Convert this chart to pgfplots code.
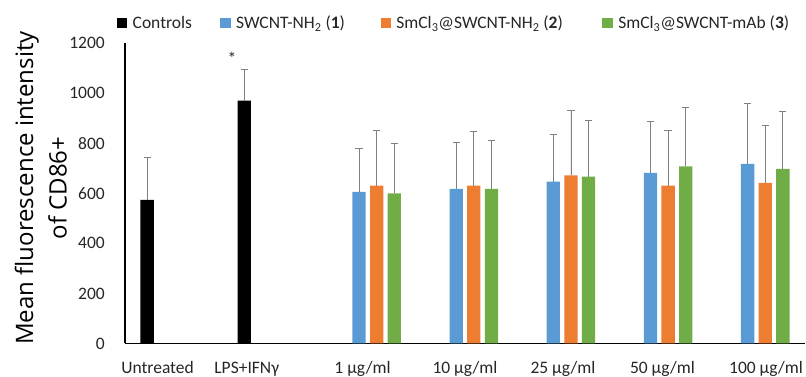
\documentclass[border=0pt]{standalone}
\usepackage{pgfplots}
\pgfplotsset{compat=1.18}
\usepackage{pgfplotstable}
\usepackage{fontspec}
\setmainfont{Carlito}
\newfontfamily\labelfont{Open Sans}
\definecolor{cblue}{HTML}{5B9BD5}
\definecolor{corange}{HTML}{ED7D31}
\definecolor{cgreen}{HTML}{70AD47}
\definecolor{errgray}{HTML}{808080}
\definecolor{txt}{HTML}{262626}

\pgfplotstableread{
x y e
-0.272 574 169
0.728 970 124
}\controls
\pgfplotstableread{
x y e
1.9093 605 173
2.9093 617 186
3.9093 646 189
4.9093 681 204
5.9093 717 240
}\sone
\pgfplotstableread{
x y e
2.0907 630 220
3.0907 630 215
4.0907 671 260
5.0907 630 219
6.0907 641 229
}\stwo
\pgfplotstableread{
x y e
2.272 599 200
3.272 617 192
4.272 666 224
5.272 707 235
6.272 697 230
}\sthree

\begin{document}
\begin{tikzpicture}
\begin{axis}[
  scale only axis, width=680pt, height=300.5pt,
  xmin=-0.5, xmax=6.5, ymin=0, ymax=1200,
  axis lines=left, axis line style={-},
  x axis line style={line width=1.8pt}, y axis line style={line width=1.2pt},
  ytick={0,200,...,1200},
  xtick={-0.165,0.753,1.945,3.0,4.009,5.033,6.099},
  xticklabels={Untreated, LPS+IFNγ, 1 µg/ml, 10 µg/ml, 25 µg/ml, 50 µg/ml, 100 µg/ml},
  major tick length=0pt, tick style={draw=none},
  /pgf/number format/assume math mode=true,
  /pgf/number format/1000 sep={},
  ticklabel style={font=\fontsize{17.5}{21}\selectfont, text=txt},
  yticklabel style={anchor=east, inner sep=0pt, xshift=-20pt},
  xticklabel style={anchor=base, inner sep=0pt, yshift=-29.8pt},
  ylabel={Mean fluorescence intensity\\of CD86+},
  ylabel style={at={(axis description cs:-0.1237,0.5175)}, anchor=center, align=center, font=\labelfont\fontsize{24}{33.4}\selectfont},
  sq legend/.style={legend image code/.code={\fill[##1, draw=none] (0pt,-5.3pt) rectangle (10.6pt,5.3pt); \path (15.6pt,0pt);}},
  mybar/.style={ybar, bar width=0.137, bar shift=0pt, draw=none,
    error bars/.cd, y dir=plus, y explicit,
    error bar style={color=errgray, line width=0.9pt},
    error mark options={rotate=90, mark size=3.6pt, line width=0.9pt, color=errgray}},
  legend style={at={(axis description cs:-0.0122,1.0666)}, anchor=west, draw=none, fill=none, inner sep=0pt,
    legend columns=4, font=\fontsize{17.5}{21}\selectfont, text=txt, cells={anchor=west},
    nodes={inner sep=0pt, text height=11.6pt, text depth=0pt},
    /tikz/every even column/.append style={column sep=0pt}},
]
\addplot[forget plot, fill=black, mybar] table[x=x, y=y, y error=e]{\controls};
\addplot[forget plot, fill=cblue, mybar] table[x=x, y=y, y error=e]{\sone};
\addplot[forget plot, fill=corange, mybar] table[x=x, y=y, y error=e]{\stwo};
\addplot[forget plot, fill=cgreen, mybar] table[x=x, y=y, y error=e]{\sthree};
\addlegendimage{sq legend, fill=black}
\addlegendentry{\makebox[87.7pt][l]{Controls}}
\addlegendimage{sq legend, fill=cblue}
\addlegendentry{\makebox[144.4pt][l]{SWCNT-NH\textsubscript{2} (\textbf{1})}}
\addlegendimage{sq legend, fill=corange}
\addlegendentry{\makebox[206.1pt][l]{SmCl\textsubscript{3}@SWCNT-NH\textsubscript{2} (\textbf{2})}}
\addlegendimage{sq legend, fill=cgreen}
\addlegendentry{SmCl\textsubscript{3}@SWCNT-mAb (\textbf{3})}
\node[font=\fontsize{17.5}{21}\selectfont, text=txt, inner sep=0pt] at (axis cs:0.6015,1138) {*};
\coordinate (O) at (rel axis cs:0,0);
\end{axis}
\pgfresetboundingbox
\path[use as bounding box] (O) ++(-125pt,-33.5pt) rectangle ++(806pt,377pt);
\end{tikzpicture}
\end{document}
